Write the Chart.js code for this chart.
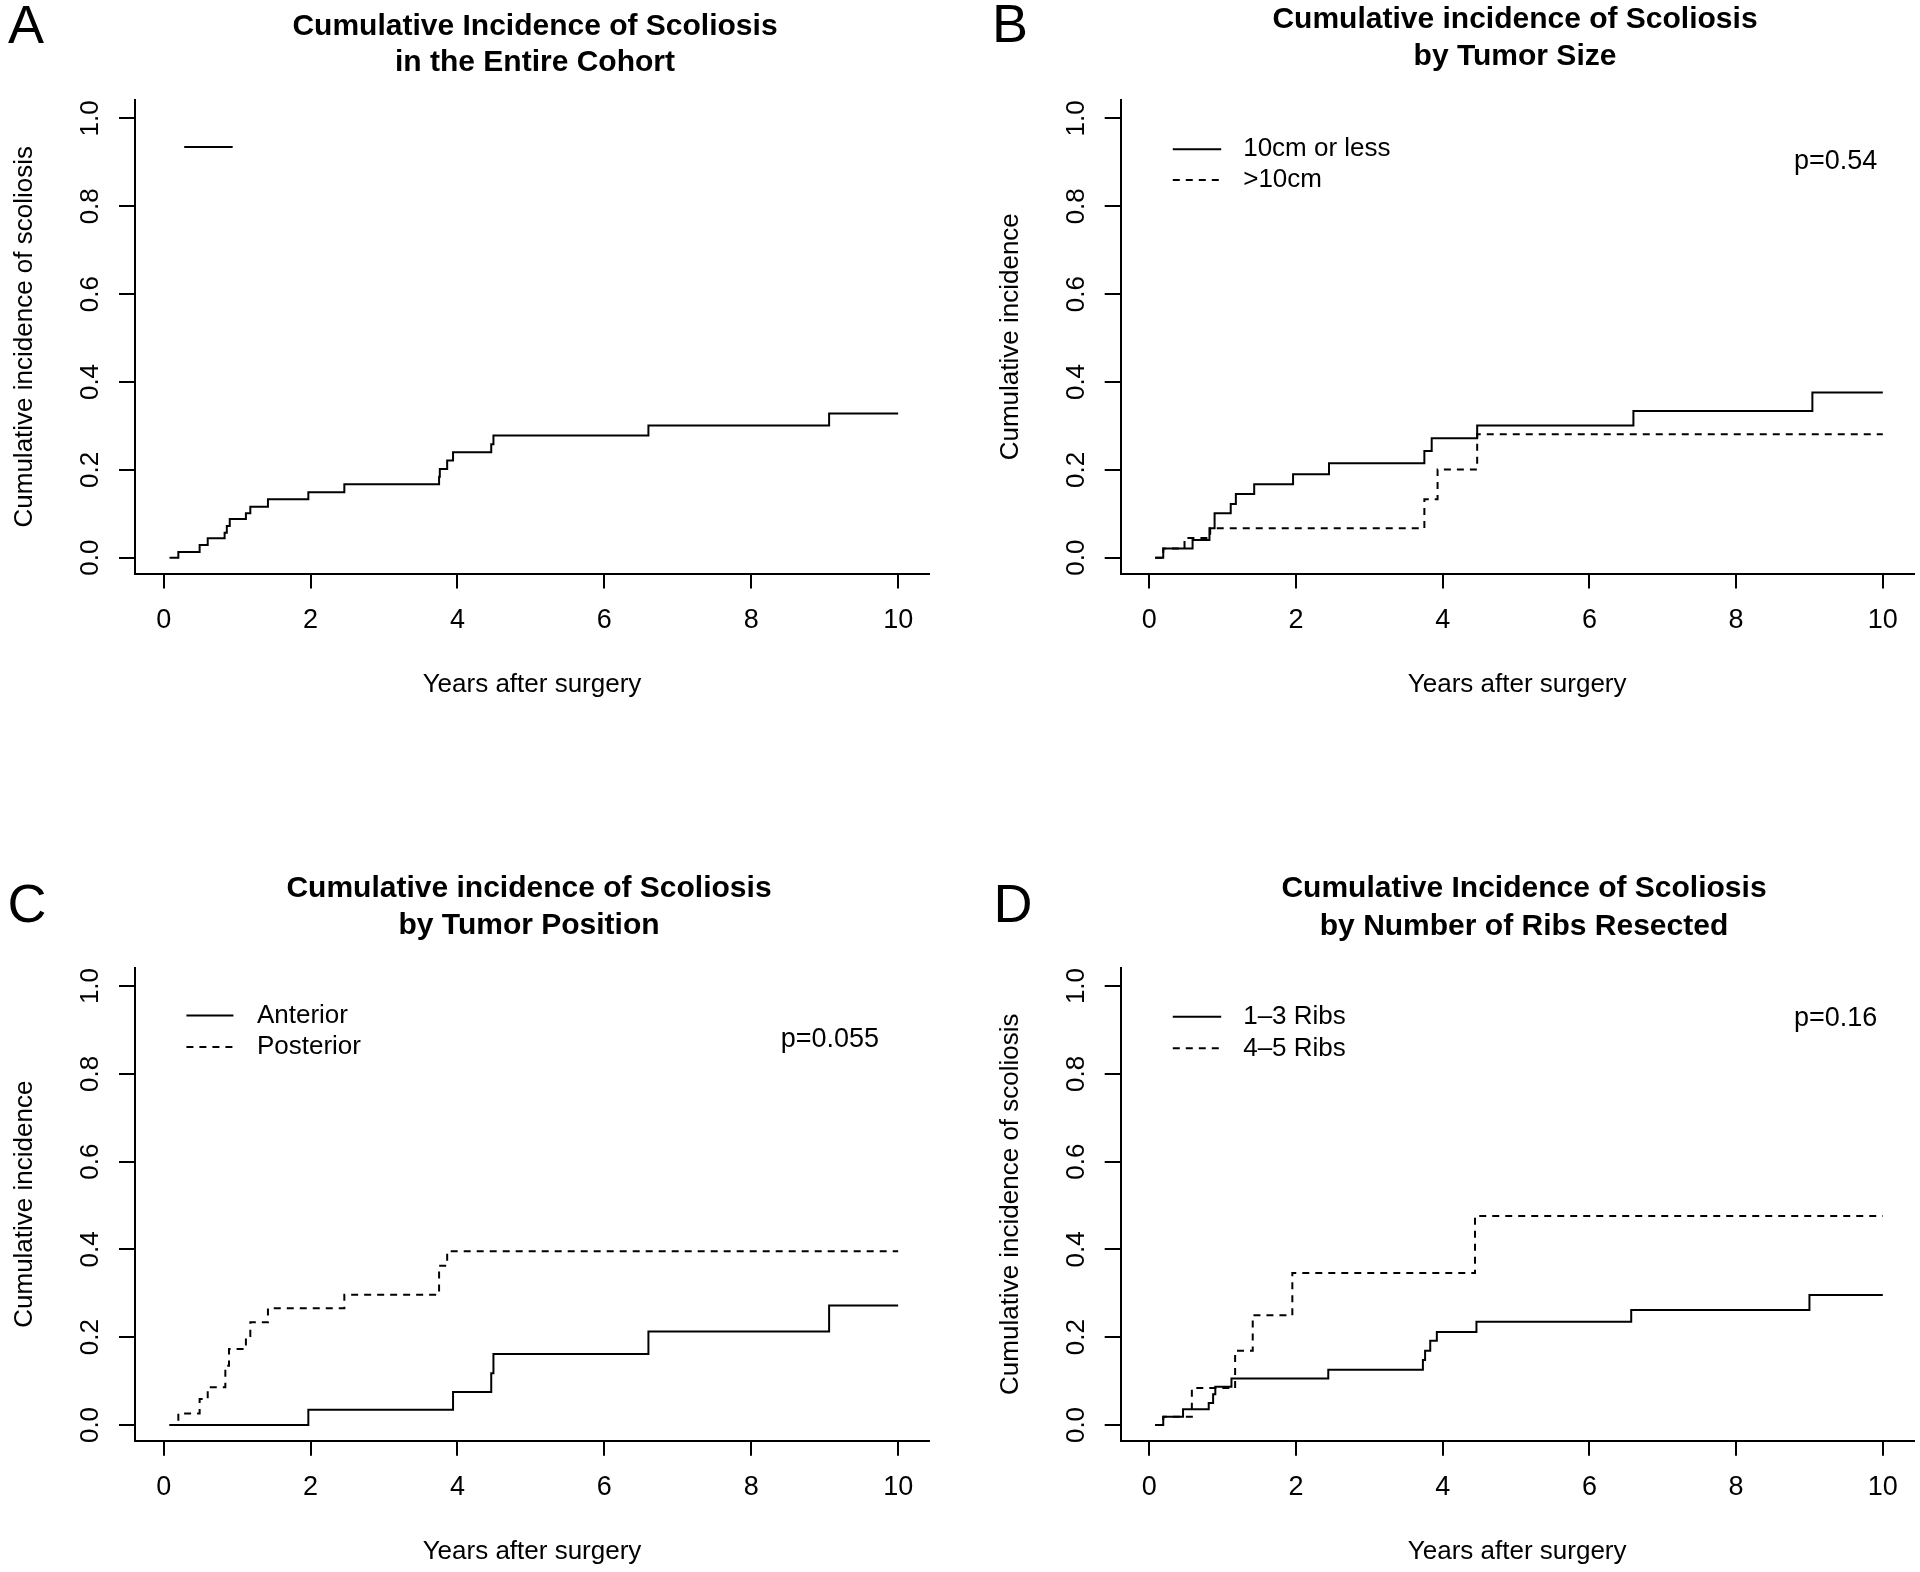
<!DOCTYPE html>
<html>
<head>
<meta charset="utf-8">
<script src="https://cdn.jsdelivr.net/npm/chart.js@4.4.1/dist/chart.umd.min.js"></script>
<style>
html, body { margin: 0; padding: 0; background: #fff; }
#wrap { position: relative; width: 1920px; height: 1572px; }
canvas { position: absolute; }
</style>
</head>
<body>
<div id="wrap">
	<canvas id="chartA" width="960" height="786" style="left:0;top:0"></canvas>
	<canvas id="chartB" width="960" height="786" style="left:960px;top:0"></canvas>
	<canvas id="chartC" width="960" height="786" style="left:0;top:786px"></canvas>
	<canvas id="chartD" width="960" height="786" style="left:960px;top:786px"></canvas>
</div>
<script>
// axis ticks
const xTicks = [0, 2, 4, 6, 8, 10];
const yTicks = [0, 0.2, 0.4, 0.6, 0.8, 1.0];
const yTickLabels = ['0.0', '0.2', '0.4', '0.6', '0.8', '1.0'];

// A - entire cohort
const aTimes = [0.08, 0.20, 0.49, 0.60, 0.83, 0.86, 0.90, 1.12, 1.18, 1.42, 1.97, 2.46, 3.75, 3.76, 3.86, 3.94, 4.46, 4.49, 6.60, 9.06, 10.0];
const aInc   = [0, 0.013, 0.029, 0.044, 0.057, 0.072, 0.088, 0.101, 0.116, 0.133, 0.149, 0.167, 0.184, 0.202, 0.221, 0.240, 0.258, 0.278, 0.301, 0.328, 0.328];

// B - tumor size
const bLabels = ['10cm or less', '>10cm'];
const bSmallTimes = [0.08, 0.19, 0.59, 0.82, 0.89, 1.11, 1.18, 1.43, 1.96, 2.45, 3.75, 3.85, 4.47, 6.60, 9.04, 10.0];
const bSmallInc   = [0, 0.021, 0.040, 0.067, 0.101, 0.122, 0.145, 0.167, 0.190, 0.215, 0.243, 0.272, 0.301, 0.334, 0.376, 0.376];
const bLargeTimes = [0.08, 0.19, 0.48, 0.83, 3.75, 3.93, 4.47, 10.0];
const bLargeInc   = [0, 0.021, 0.045, 0.067, 0.133, 0.201, 0.281, 0.281];

// C - tumor position
const cLabels = ['Anterior', 'Posterior'];
const cAntTimes = [0.08, 1.97, 3.94, 4.46, 4.49, 6.60, 9.06, 10.0];
const cAntInc   = [0, 0.035, 0.075, 0.118, 0.162, 0.213, 0.272, 0.272];
const cPostTimes = [0.08, 0.20, 0.49, 0.60, 0.84, 0.89, 1.12, 1.18, 1.42, 2.46, 3.75, 3.86, 10.0];
const cPostInc   = [0, 0.026, 0.059, 0.086, 0.135, 0.173, 0.203, 0.234, 0.266, 0.297, 0.363, 0.396, 0.396];

// D - number of ribs resected
const dLabels = ['1\u20133 Ribs', '4\u20135 Ribs'];
const dLowTimes = [0.08, 0.19, 0.46, 0.81, 0.87, 0.90, 1.12, 2.44, 3.73, 3.76, 3.83, 3.92, 4.46, 6.57, 9.00, 10.0];
const dLowInc   = [0, 0.019, 0.036, 0.050, 0.070, 0.087, 0.106, 0.126, 0.148, 0.169, 0.192, 0.212, 0.235, 0.262, 0.296, 0.296];
const dHighTimes = [0.08, 0.19, 0.58, 1.17, 1.41, 1.95, 4.44, 10.0];
const dHighInc   = [0, 0.019, 0.084, 0.169, 0.250, 0.346, 0.476, 0.476];

const FONT = '"Liberation Sans", Arial, Helvetica, sans-serif';

function pts(t, v) {
	return t.map((x, i) => ({ x: x, y: v[i] }));
}

// titles, panel letters, legends and p-values
const panelText = {
	id: 'panelText',
	afterDraw(chart, args, o) {
		const ctx = chart.ctx;
		const xs = chart.scales.x, ys = chart.scales.y;
		ctx.save();
		ctx.fillStyle = '#000';
		ctx.strokeStyle = '#000';
		ctx.textBaseline = 'middle';
		ctx.textAlign = 'center';
		ctx.font = '54px ' + FONT;
		ctx.fillText(o.letter, o.letterX, o.letterY);
		ctx.font = 'bold 30px ' + FONT;
		o.title.forEach((t, i) => ctx.fillText(t, o.titleX, o.titleY[i]));
		ctx.textAlign = 'left';
		ctx.font = '26px ' + FONT;
		ctx.lineWidth = 2;
		(o.legend || []).forEach(it => {
			const y = ys.getPixelForValue(it.y);
			ctx.setLineDash(it.dash ? [7, 6] : []);
			ctx.beginPath();
			ctx.moveTo(xs.getPixelForValue(it.x0), y);
			ctx.lineTo(xs.getPixelForValue(it.x1), y);
			ctx.stroke();
			if (it.label) ctx.fillText(it.label, xs.getPixelForValue(it.tx), y);
		});
		ctx.setLineDash([]);
		if (o.p) {
			ctx.font = '27px ' + FONT;
			ctx.fillText(o.p.text, xs.getPixelForValue(o.p.x), ys.getPixelForValue(o.p.y));
		}
		ctx.restore();
	}
};

function buildPanel(id, cfg) {
	const ctx = document.getElementById(id);
	const chart = new Chart(ctx, {
		type: 'line',
		data: {
			datasets: cfg.series.map(s => ({
				label: s.label,
				data: pts(s.t, s.v),
				stepped: true,
				borderColor: '#000',
				borderWidth: 2,
				borderDash: s.dash ? [7, 6] : [],
				pointRadius: 0,
				fill: false
			}))
		},
		options: {
			responsive: false,
			animation: false,
			devicePixelRatio: 1,
			layout: { padding: cfg.pad },
			plugins: {
				legend: { display: false },
				tooltip: { enabled: false },
				panelText: cfg.text
			},
			scales: {
				x: {
					type: 'linear',
					min: -0.39,
					max: 10.42,
					afterBuildTicks: s => { s.ticks = xTicks.map(v => ({ value: v })); },
					afterFit: s => { s.height = 127; },
					grid: { drawOnChartArea: false, drawTicks: true, tickLength: 15, color: '#000', lineWidth: 2 },
					border: { display: true, color: '#000', width: 2 },
					ticks: { color: '#000', font: { family: FONT, size: 27 }, padding: 16, maxRotation: 0, autoSkip: false },
					title: { display: true, text: 'Years after surgery', color: '#000', font: { family: FONT, size: 26 }, padding: { top: 0, bottom: 0 } }
				},
				y: {
					type: 'linear',
					min: -0.036,
					max: 1.042,
					afterBuildTicks: s => { s.ticks = yTicks.map(v => ({ value: v })); },
					afterFit: s => { s.width = 125.6; },
					grid: { drawOnChartArea: false, drawTicks: true, tickLength: 16, color: '#000', lineWidth: 2 },
					border: { display: true, color: '#000', width: 2 },
					ticks: {
						color: '#000', font: { family: FONT, size: 26 }, padding: 10,
						minRotation: 90, maxRotation: 90, crossAlign: 'center', autoSkip: false,
						callback: v => yTickLabels[yTicks.indexOf(v)]
					},
					title: { display: true, text: cfg.yTitle, color: '#000', font: { family: FONT, size: 26 }, padding: { top: 0, bottom: 0 } }
				}
			}
		},
		plugins: [panelText]
	});
	return chart;
}

function buildItAll() {
	window.chartA = buildPanel('chartA', {
		series: [{ label: 'All', t: aTimes, v: aInc }],
		yTitle: 'Cumulative incidence of scoliosis',
		pad: { left: 9.4, top: 100, right: 31, bottom: 85.5 },
		text: {
			letter: 'A', letterX: 26, letterY: 28,
			title: ['Cumulative Incidence of Scoliosis', 'in the Entire Cohort'], titleX: 535, titleY: [27, 63],
			legend: [{ x0: 0.28, x1: 0.94, y: 0.935 }]
		}
	});
	window.chartB = buildPanel('chartB', {
		series: [{ label: bLabels[0], t: bSmallTimes, v: bSmallInc }, { label: bLabels[1], t: bLargeTimes, v: bLargeInc, dash: true }],
		yTitle: 'Cumulative incidence',
		pad: { left: 35.1, top: 100, right: 6.4, bottom: 85.5 },
		text: {
			letter: 'B', letterX: 50, letterY: 27,
			title: ['Cumulative incidence of Scoliosis', 'by Tumor Size'], titleX: 555, titleY: [20, 57],
			legend: [
				{ x0: 0.32, x1: 0.98, y: 0.93, label: bLabels[0], tx: 1.28 },
				{ x0: 0.32, x1: 0.98, y: 0.86, label: bLabels[1], tx: 1.28, dash: true }
			],
			p: { text: 'p=0.54', x: 8.79, y: 0.902 }
		}
	});
	window.chartC = buildPanel('chartC', {
		series: [{ label: cLabels[0], t: cAntTimes, v: cAntInc }, { label: cLabels[1], t: cPostTimes, v: cPostInc, dash: true }],
		yTitle: 'Cumulative incidence',
		pad: { left: 9.4, top: 181.6, right: 31, bottom: 4.2 },
		text: {
			letter: 'C', letterX: 27, letterY: 121,
			title: ['Cumulative incidence of Scoliosis', 'by Tumor Position'], titleX: 529, titleY: [103, 140],
			legend: [
				{ x0: 0.31, x1: 0.95, y: 0.933, label: cLabels[0], tx: 1.27 },
				{ x0: 0.31, x1: 0.95, y: 0.861, label: cLabels[1], tx: 1.27, dash: true }
			],
			p: { text: 'p=0.055', x: 8.40, y: 0.877 }
		}
	});
	window.chartD = buildPanel('chartD', {
		series: [{ label: dLabels[0], t: dLowTimes, v: dLowInc }, { label: dLabels[1], t: dHighTimes, v: dHighInc, dash: true }],
		yTitle: 'Cumulative incidence of scoliosis',
		pad: { left: 35.1, top: 181.6, right: 6.4, bottom: 4.2 },
		text: {
			letter: 'D', letterX: 53, letterY: 121,
			title: ['Cumulative Incidence of Scoliosis', 'by Number of Ribs Resected'], titleX: 564, titleY: [103, 141],
			legend: [
				{ x0: 0.32, x1: 0.98, y: 0.93, label: dLabels[0], tx: 1.28 },
				{ x0: 0.32, x1: 0.98, y: 0.858, label: dLabels[1], tx: 1.28, dash: true }
			],
			p: { text: 'p=0.16', x: 8.79, y: 0.925 }
		}
	});
}

buildItAll();
</script>
</body>
</html>
